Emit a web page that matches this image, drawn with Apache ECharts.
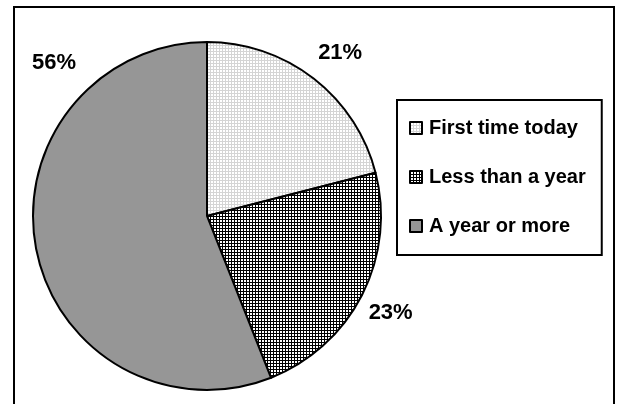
<!DOCTYPE html>
<html>
<head>
<meta charset="utf-8">
<script src="https://cdn.jsdelivr.net/npm/echarts@6/dist/echarts.min.js"></script>
<style>
  html, body { margin: 0; padding: 0; background: #fff; }
  #chart { width: 620px; height: 404px; }
</style>
</head>
<body>
<div id="chart"></div>
<script>
// ======================
// DATA
// ======================
const categories = ['First time today', 'Less than a year', 'A year or more'];
const shares = [21, 23, 56];

// ======================
// PATTERNS (Excel-style fills)
// ======================
function makeGridPattern(lineColor) {
    const c = document.createElement('canvas');
    c.width = 3;
    c.height = 3;
    const ctx = c.getContext('2d');
    ctx.fillStyle = '#ffffff';
    ctx.fillRect(0, 0, 3, 3);
    ctx.fillStyle = lineColor;
    ctx.fillRect(0, 0, 3, 1);
    ctx.fillRect(0, 0, 1, 3);
    return { image: c, repeat: 'repeat' };
}

const fills = [
    makeGridPattern('#d4d4d4'),
    makeGridPattern('#000000'),
    '#969696'
];

const chart = echarts.init(document.getElementById('chart'), null, { renderer: 'canvas' });

const font = 'Arial';

chart.setOption({
    animation: false,
    graphic: [{
        type: 'rect',
        shape: { x: 14, y: 7, width: 600, height: 420 },
        style: { fill: 'none', stroke: '#000', lineWidth: 2 },
        silent: true
    }],
    legend: {
        orient: 'vertical',
        left: 397,
        top: 100,
        padding: [18, 16, 19, 12],
        borderColor: '#000',
        borderWidth: 2,
        itemWidth: 12,
        itemHeight: 12,
        itemGap: 29,
        icon: 'rect',
        selectedMode: false,
        data: categories,
        itemStyle: { borderColor: '#000', borderWidth: 2 },
        textStyle: {
            fontFamily: font,
            fontWeight: 700,
            fontSize: 20,
            lineHeight: 20,
            color: '#000',
            padding: [0, 0, 0, 2]
        }
    },
    series: [{
        type: 'pie',
        center: [207, 216],
        radius: 174,
        startAngle: 90,
        clockwise: true,
        avoidLabelOverlap: false,
        data: categories.map((name, i) => ({
            name,
            value: shares[i],
            itemStyle: { color: fills[i] },
            // big slice: label is moved to the upper-left corner below,
            // start it 'inside' so the pie layout doesn't clip it
            label: i === 2 ? { position: 'inside' } : undefined
        })),
        itemStyle: { borderColor: '#000', borderWidth: 2 },
        label: {
            show: true,
            position: 'outside',
            formatter: p => p.value + '%',
            fontFamily: font,
            fontWeight: 700,
            fontSize: 22,
            color: '#000'
        },
        labelLine: { show: false, length: 22, length2: 0 },
        emphasis: { disabled: true },
        labelLayout: p => {
            if (p.dataIndex === 2) {
                return { x: 54, y: 63, align: 'center', verticalAlign: 'middle', hideOverlap: false };
            }
            return [
                { dx: -14, dy: -8 },
                { dx: -18, dy: 8 }
            ][p.dataIndex];
        }
    }]
});
</script>
</body>
</html>
